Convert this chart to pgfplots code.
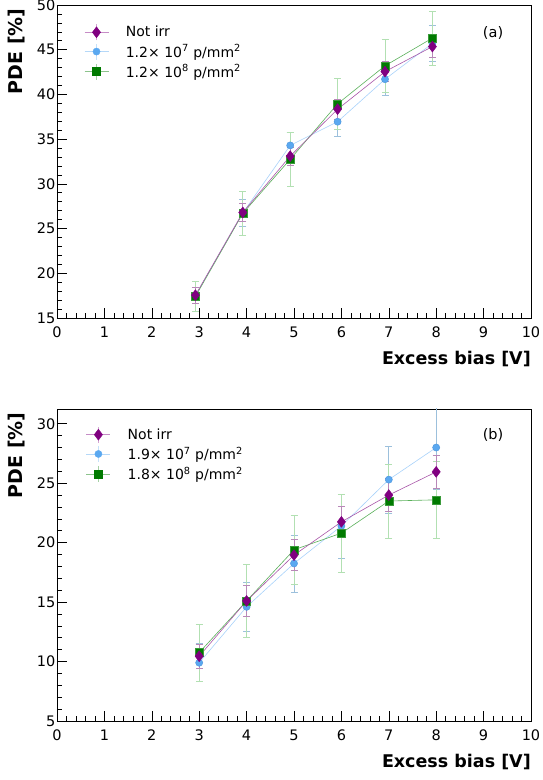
\documentclass[border=0pt]{standalone}
\usepackage{fontspec}
\setmainfont{DejaVu Sans}
\usepackage{pgfplots}
\usepackage{pgfplotstable}
\pgfplotsset{compat=1.18}

\definecolor{purp}{HTML}{800080}
\definecolor{purpline}{HTML}{A856A8}
\definecolor{purperr}{HTML}{B888B8}
\definecolor{blu}{HTML}{5AA8F0}
\definecolor{bluedge}{HTML}{4A94DC}
\definecolor{bluline}{HTML}{A8D2FA}
\definecolor{bluerr}{HTML}{9CC0DC}
\definecolor{grn}{HTML}{007A00}
\definecolor{grnedge}{HTML}{3A9A3A}
\definecolor{grnline}{HTML}{5AB05A}
\definecolor{grnerr}{HTML}{B2E0B2}

% panel (a)
\pgfplotstableread{
x y e
2.92 17.55 0.9
3.92 26.80 1.0
4.92 33.10 1.0
5.92 38.35 1.1
6.92 42.55 1.1
7.92 45.35 1.2
}\aNot
\pgfplotstableread{
x y e
2.92 17.50 0.9
3.92 26.75 1.5
4.92 34.30 1.5
5.92 36.95 1.6
6.92 41.70 1.8
7.92 45.70 2.0
}\aLow
\pgfplotstableread{
x y e
2.92 17.40 1.7
3.92 26.70 2.5
4.92 32.75 3.0
5.92 38.95 2.8
6.92 43.20 3.0
7.92 46.30 3.0
}\aHigh

% panel (b)
\pgfplotstableread{
x y e
3 10.45 1.0
4 15.10 1.3
5 18.95 1.3
6 21.75 1.3
7 24.00 1.4
8 25.95 1.4
}\bNot
\pgfplotstableread{
x y e
3  9.90 1.6
4 14.60 2.1
5 18.25 2.4
6 21.40 2.7
7 25.30 2.8
8 28.00 3.5
}\bLow
\pgfplotstableread{
x y e
3 10.75 2.4
4 15.10 3.1
5 19.40 2.9
6 20.80 3.3
7 23.50 3.1
8 23.60 3.2
}\bHigh

\pgfplotsset{
  common/.style={
    anchor=south west, scale only axis, width=474pt,
    xmin=0, xmax=10, xtick={0,1,...,10}, minor x tick num=4, minor y tick num=4,
    tick pos=left, tick align=inside,
    major tick length=10pt, minor tick length=5pt,
    every tick/.style={black, line width=0.6pt},
    axis line style={line width=0.8pt},
    tick label style={font=\fontsize{14.5}{16}\selectfont},
    /pgf/number format/assume math mode=true,
    yticklabel style={inner sep=1.5pt},
    xticklabel style={yshift=-5pt},
    xlabel={Excess bias [V]},
    xlabel style={at={(axis description cs:1,0)}, anchor=north east, yshift=-33pt,
      inner sep=0pt, font=\fontsize{17.5}{20}\selectfont\bfseries},
    ylabel={PDE [\%]},
    ylabel style={at={(axis description cs:-0.0844,0.99)}, anchor=east,
      inner sep=0pt, font=\fontsize{19}{22}\selectfont\bfseries},
    legend cell align=left,
    legend style={draw=none, fill=none, anchor=north west, inner sep=0pt,
      row sep=2pt, font=\fontsize{14}{17}\selectfont,
      /tikz/every odd column/.append style={column sep=15pt}},
    legend image code/.code={
      \draw[mark=none, line width=0.6pt, draw opacity=0.45] (0pt,0pt) -- (24pt,0pt);
      \draw[mark=none, line width=0.6pt, draw opacity=0.35] (12pt,-8pt) -- (12pt,8pt);
      \draw plot coordinates {(12pt,0pt)};
    },
    error bars/y dir=both, error bars/y explicit,
    error bars/error mark=-,
  },
  snot/.style={color=purpline, line width=0.6pt, mark=diamond*, mark size=5.5pt,
    mark options={draw=purp, fill=purp, line width=0.4pt},
    error bars/error bar style={color=purperr, line width=0.7pt},
    error bars/error mark options={rotate=90, color=purperr, mark size=3.5pt, line width=0.7pt}},
  slow/.style={color=bluline, line width=0.6pt, mark=*, mark size=3.6pt,
    mark options={draw=bluedge, fill=blu, line width=0.4pt},
    error bars/error bar style={color=bluerr, line width=0.7pt},
    error bars/error mark options={rotate=90, color=bluerr, mark size=3.5pt, line width=0.7pt}},
  shigh/.style={color=grnline, line width=0.6pt, mark=square*, mark size=4pt,
    mark options={draw=grnedge, fill=grn, line width=0.4pt},
    error bars/error bar style={color=grnerr, line width=0.7pt},
    error bars/error mark options={rotate=90, color=grnerr, mark size=3.5pt, line width=0.7pt}},
}

\begin{document}
\begin{tikzpicture}
\path[use as bounding box] (0pt,0pt) rectangle (542pt,780pt);

\begin{axis}[common, at={(57pt,462pt)}, height=313pt,
  ymin=15, ymax=50, ytick={15,20,...,50},
  legend style={at={(axis description cs:0.057,0.94)}}]
\addlegendimage{color=purp, mark=diamond*, mark size=5.5pt}
\addlegendentry{Not irr}
\addlegendimage{color=blu, mark=*, mark size=3.6pt}
\addlegendentry{1.2× 10\textsuperscript{7} p/mm\textsuperscript{2}}
\addlegendimage{color=grn, mark=square*, mark size=4pt}
\addlegendentry{1.2× 10\textsuperscript{8} p/mm\textsuperscript{2}}
\addplot[slow, forget plot] table[x=x, y=y, y error=e] {\aLow};
\addplot[shigh, forget plot] table[x=x, y=y, y error=e] {\aHigh};
\addplot[snot, forget plot] table[x=x, y=y, y error=e] {\aNot};
\node[font=\fontsize{14.5}{17}\selectfont] at (rel axis cs:0.92,0.91) {(a)};
\end{axis}

\begin{axis}[common, at={(57pt,59pt)}, height=312pt,
  ymin=5, ymax=31.24, ytick={5,10,...,30},
  legend style={at={(axis description cs:0.061,0.945)}}]
\addlegendimage{color=purp, mark=diamond*, mark size=5.5pt}
\addlegendentry{Not irr}
\addlegendimage{color=blu, mark=*, mark size=3.6pt}
\addlegendentry{1.9× 10\textsuperscript{7} p/mm\textsuperscript{2}}
\addlegendimage{color=grn, mark=square*, mark size=4pt}
\addlegendentry{1.8× 10\textsuperscript{8} p/mm\textsuperscript{2}}
\addplot[slow, forget plot] table[x=x, y=y, y error=e] {\bLow};
\addplot[shigh, forget plot] table[x=x, y=y, y error=e] {\bHigh};
\addplot[snot, forget plot] table[x=x, y=y, y error=e] {\bNot};
\node[font=\fontsize{14.5}{17}\selectfont] at (rel axis cs:0.92,0.917) {(b)};
\end{axis}
\end{tikzpicture}
\end{document}
